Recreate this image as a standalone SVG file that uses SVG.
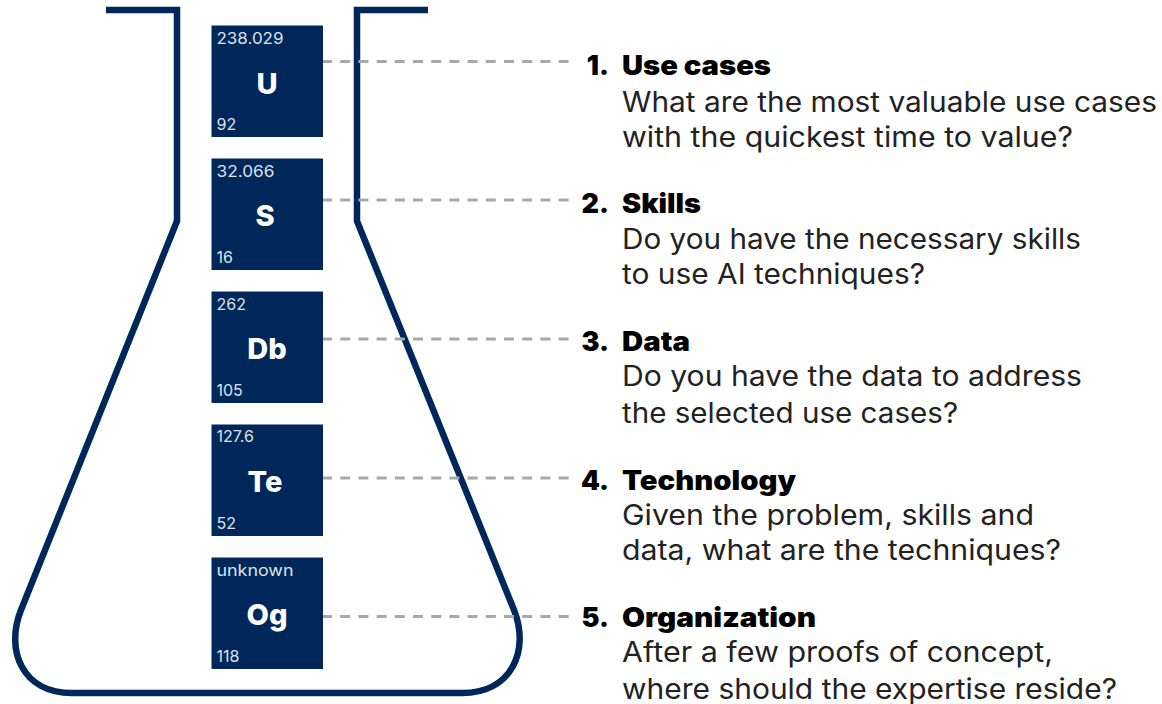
<svg xmlns="http://www.w3.org/2000/svg" width="1162" height="704" viewBox="0 0 1162 704">
<style>
text{font-family:"Inter","Liberation Sans",sans-serif}
.box{fill:#00275a}
.sym{fill:#fff;font-size:29px;font-weight:800;text-anchor:middle}
.small{fill:#dde2ea;font-size:16px}
.num{fill:#000;font-size:27px;font-weight:900;text-anchor:end}
.head{fill:#000;font-size:27px;font-weight:900}
.body{fill:#222;font-size:28px}
.flask{fill:none;stroke:#00275a;stroke-width:6.5}
.dash{stroke:#a5aaa8;stroke-width:3;stroke-dasharray:10 8.2;fill:none}
</style>
<rect width="1162" height="704" fill="#fff"/>
<g id="flask"><path class="flask" d="M106 10H177V221L21 610C5 650 22 693 72 693H462C512 693 530 650 514 610L357 221V10H428"/></g>
<g id="connectors">
<path class="dash" d="M322 61.500H570"/><path class="dash" d="M322 200H570"/><path class="dash" d="M322 339H570"/><path class="dash" d="M322 478H570"/><path class="dash" d="M322 616.500H570"/>
</g>
<g id="node-u"><rect class="box" x="211.500" y="25.500" width="111.500" height="111.500"/><text class="small" x="216.500" y="44" textLength="67" lengthAdjust="spacingAndGlyphs">238.029</text><text class="sym" x="267" y="94">U</text><text class="small" x="216.500" y="130">92</text></g>
<g id="node-s"><rect class="box" x="211.500" y="158.500" width="111.500" height="111.500"/><text class="small" x="216.500" y="177" textLength="58" lengthAdjust="spacingAndGlyphs">32.066</text><text class="sym" x="265" y="226">S</text><text class="small" x="216.500" y="263">16</text></g>
<g id="node-db"><rect class="box" x="211.500" y="291.500" width="111.500" height="111.500"/><text class="small" x="216.500" y="310">262</text><text class="sym" x="267" y="359">Db</text><text class="small" x="216.500" y="396">105</text></g>
<g id="node-te"><rect class="box" x="211.500" y="424.500" width="111.500" height="111.500"/><text class="small" x="216.500" y="442">127.6</text><text class="sym" x="265" y="492">Te</text><text class="small" x="216.500" y="529">52</text></g>
<g id="node-og"><rect class="box" x="211.500" y="557.500" width="111.500" height="111.500"/><text class="small" x="216.500" y="576" textLength="77" lengthAdjust="spacingAndGlyphs">unknown</text><text class="sym" x="267" y="625">Og</text><text class="small" x="216.500" y="662">118</text></g>
<g id="label-1"><text class="num" x="609" y="75">1.</text><text class="head" x="622" y="75" textLength="149" lengthAdjust="spacingAndGlyphs">Use cases</text><text class="body" x="622" y="112" textLength="535" lengthAdjust="spacingAndGlyphs">What are the most valuable use cases</text><text class="body" x="622" y="147" textLength="451" lengthAdjust="spacingAndGlyphs">with the quickest time to value?</text></g>
<g id="label-2"><text class="num" x="609" y="213">2.</text><text class="head" x="622" y="213" textLength="79" lengthAdjust="spacingAndGlyphs">Skills</text><text class="body" x="622" y="249" textLength="459" lengthAdjust="spacingAndGlyphs">Do you have the necessary skills</text><text class="body" x="622" y="284" textLength="303" lengthAdjust="spacingAndGlyphs">to use AI techniques?</text></g>
<g id="label-3"><text class="num" x="609" y="351">3.</text><text class="head" x="622" y="351" textLength="68" lengthAdjust="spacingAndGlyphs">Data</text><text class="body" x="622" y="386" textLength="460" lengthAdjust="spacingAndGlyphs">Do you have the data to address</text><text class="body" x="622" y="423" textLength="336" lengthAdjust="spacingAndGlyphs">the selected use cases?</text></g>
<g id="label-4"><text class="num" x="609" y="490">4.</text><text class="head" x="622" y="490" textLength="174" lengthAdjust="spacingAndGlyphs">Technology</text><text class="body" x="622" y="525" textLength="412" lengthAdjust="spacingAndGlyphs">Given the problem, skills and</text><text class="body" x="622" y="560" textLength="439" lengthAdjust="spacingAndGlyphs">data, what are the techniques?</text></g>
<g id="label-5"><text class="num" x="609" y="627">5.</text><text class="head" x="622" y="627" textLength="194" lengthAdjust="spacingAndGlyphs">Organization</text><text class="body" x="622" y="662" textLength="431" lengthAdjust="spacingAndGlyphs">After a few proofs of concept,</text><text class="body" x="622" y="699" textLength="495" lengthAdjust="spacingAndGlyphs">where should the expertise reside?</text></g>
</svg>
